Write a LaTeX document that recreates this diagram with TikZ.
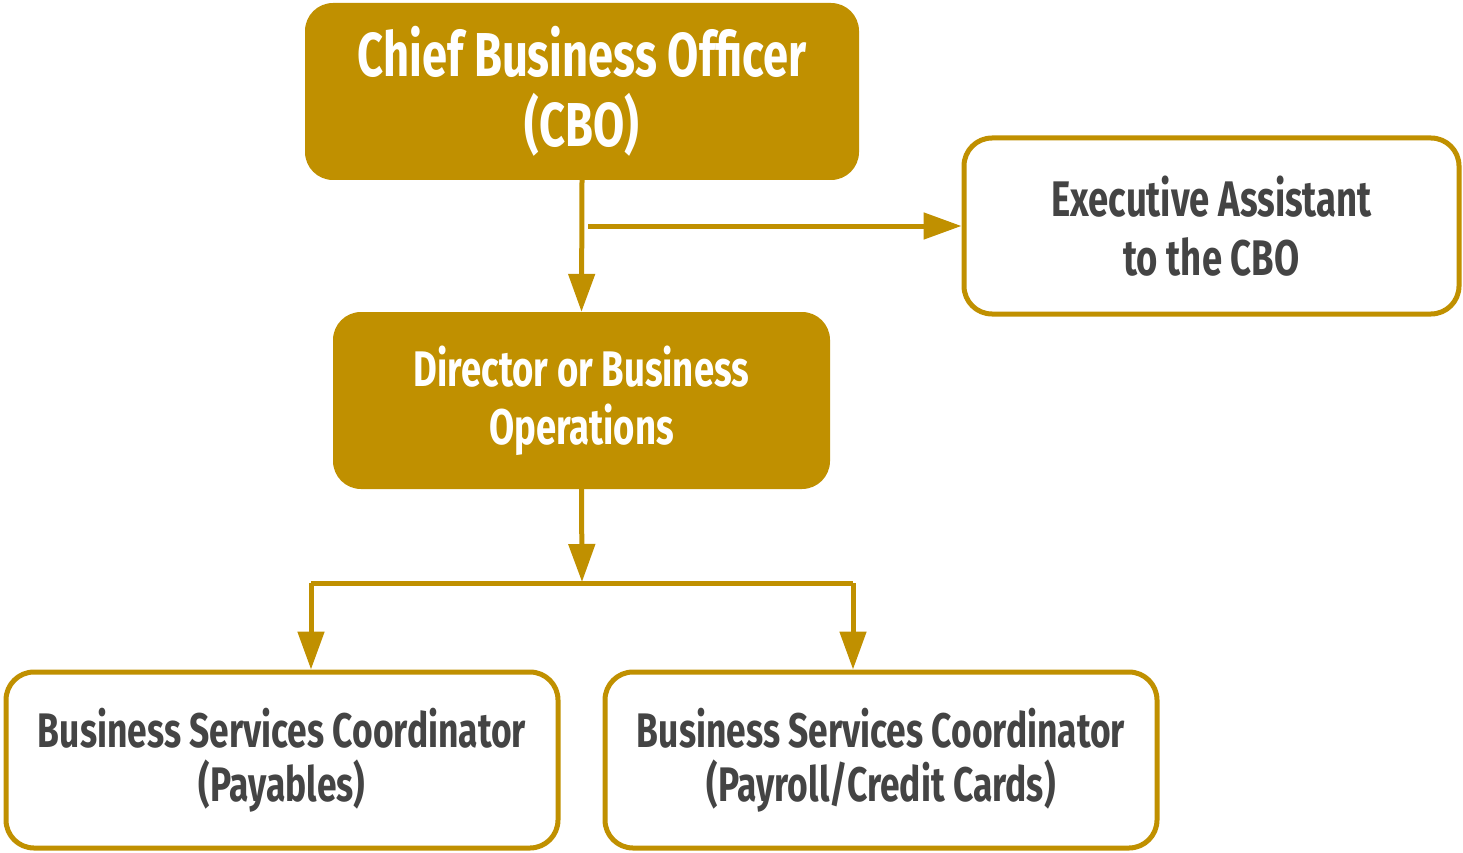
\documentclass[tikz,border=0pt]{standalone}
\usepackage{fontspec}
\setmainfont{Fira Sans}[FakeStretch=0.73]
\usetikzlibrary{arrows.meta}
\definecolor{gold}{HTML}{C09000}
\definecolor{txtgray}{HTML}{444444}
\tikzset{
  filledbox/.style={draw=none, fill=gold, rounded corners=28pt, text=white, align=center, font=\bfseries, inner sep=2pt},
  whitebox/.style={draw=gold, line width=5pt, fill=white, rounded corners=28pt, text=txtgray, align=center, font=\bfseries, inner sep=2pt},
  conn/.style={draw=gold, line width=5pt, -{Triangle[length=38pt,width=26pt]}},
  plain/.style={draw=gold, line width=5pt},
}
\begin{document}
\begin{tikzpicture}[x=1pt,y=-1pt]
\useasboundingbox (0,0) rectangle (1463,853);
\node[filledbox, minimum width=554pt, minimum height=177pt, font=\bfseries\fontsize{62}{70}\selectfont] (cbo) at (582,91.5) {Chief Business Officer\\(CBO)};
\node[whitebox, minimum width=495pt, minimum height=176pt, font=\bfseries\fontsize{50}{59}\selectfont] (ea) at (1211.5,226) {Executive Assistant\\to the CBO};
\node[filledbox, minimum width=497pt, minimum height=177pt, font=\bfseries\fontsize{50}{58}\selectfont] (dir) at (581.5,400.5) {Director or Business\\Operations};
\node[whitebox, minimum width=552pt, minimum height=176pt, font=\bfseries\fontsize{48.5}{54}\selectfont] (bsc1) at (282,760) {\raisebox{-4pt}{\parbox{540pt}{\centering Business Services Coordinator\\(Payables)}}};
\node[whitebox, minimum width=552pt, minimum height=176pt, font=\bfseries\fontsize{48.5}{54}\selectfont] (bsc2) at (881,760) {\raisebox{-4pt}{\parbox{540pt}{\centering Business Services Coordinator\\(Payroll/Credit Cards)}}};
\coordinate (eastart) at (588,226);
\coordinate (split) at (582,582);
\coordinate (lft) at (311,583);
\coordinate (rgt) at (853,583);
\draw[conn] (cbo.south) -- (dir.north);
\draw[conn] (eastart) -- (ea.west);
\draw[conn] (dir.south) -- (split);
\draw[plain] (lft) -- (rgt);
\draw[conn] (lft) -- (lft |- bsc1.north);
\draw[conn] (rgt) -- (rgt |- bsc2.north);
\end{tikzpicture}
\end{document}
